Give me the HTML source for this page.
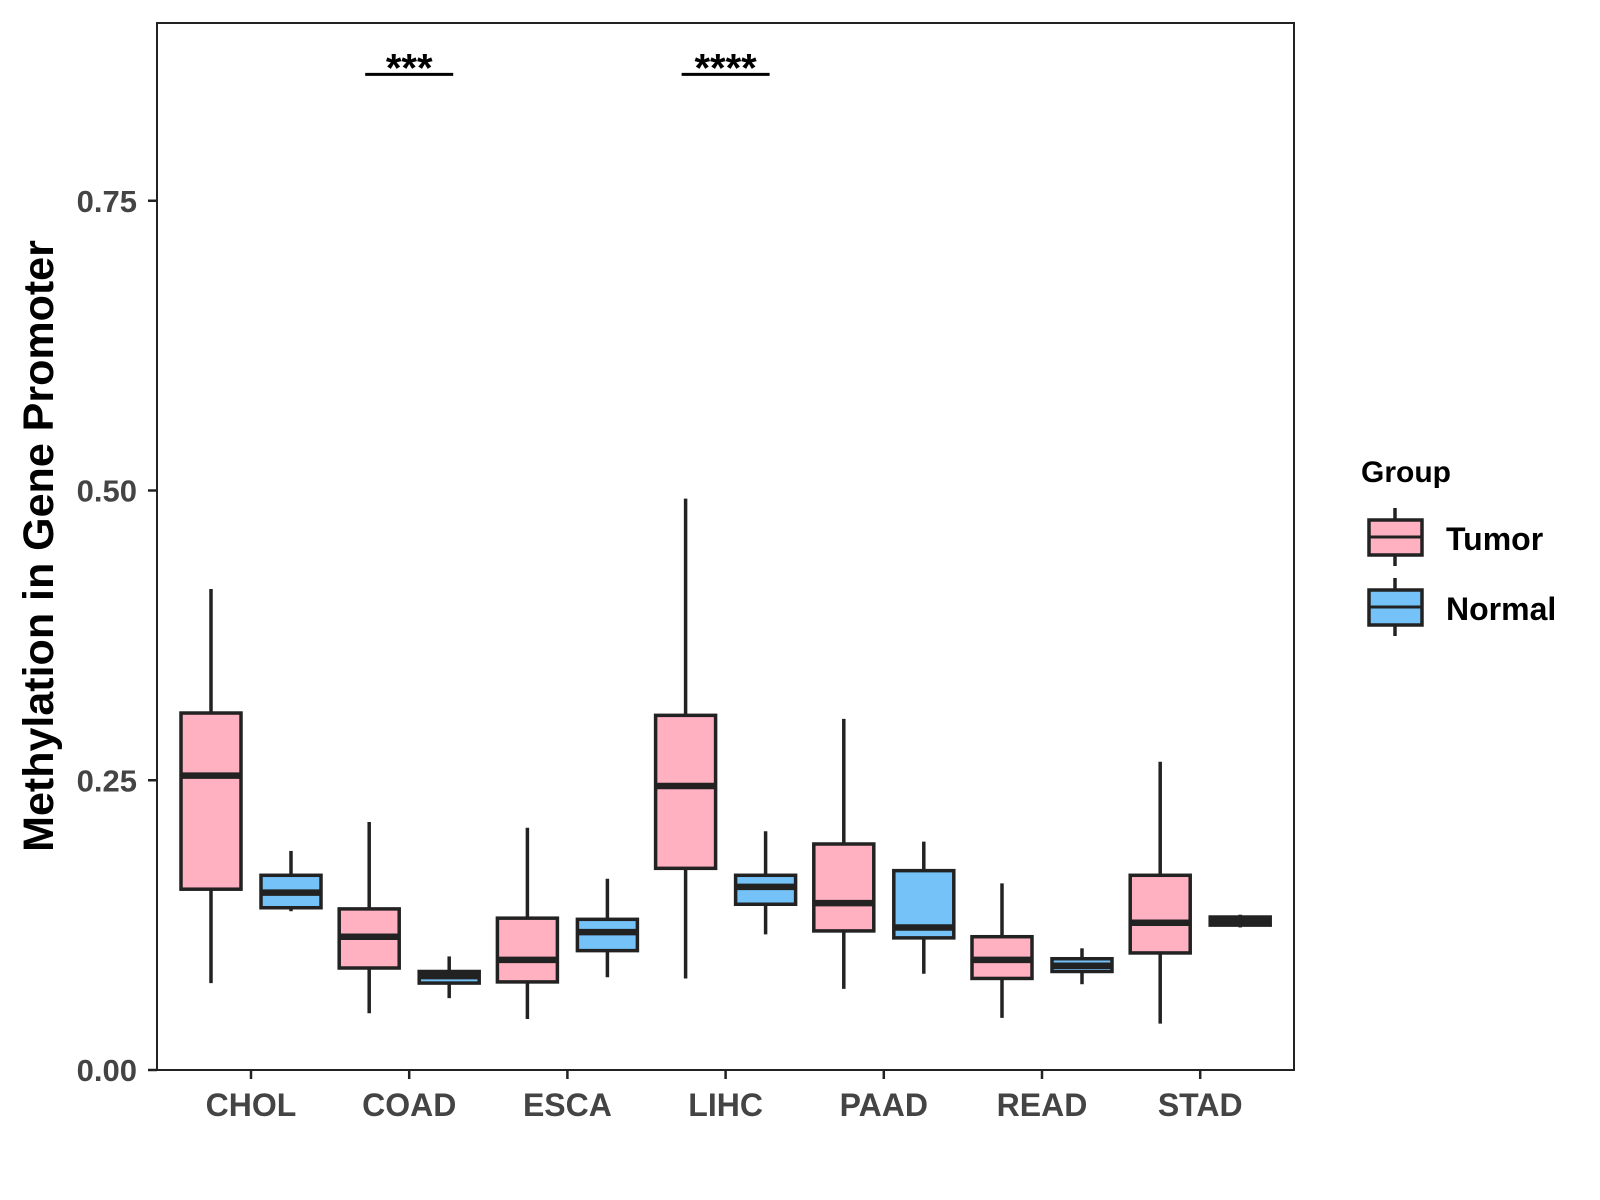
<!DOCTYPE html>
<html><head><meta charset="utf-8"><style>
html,body{margin:0;padding:0;background:#fff;}
svg{display:block;font-family:"Liberation Sans",Arial,sans-serif;font-weight:bold;}
</style></head><body>
<svg id="chart" width="1600" height="1200" viewBox="0 0 1600 1200" xmlns="http://www.w3.org/2000/svg">
<rect x="157" y="23" width="1137" height="1047" fill="#fff" stroke="#222" stroke-width="2"/>
<g id="marks"></g>
<g id="axes"></g>
<text transform="translate(53,546) rotate(-90)" text-anchor="middle" font-size="43" fill="#000">Methylation in Gene Promoter</text>
<g>
<text x="1361" y="482" font-size="30" fill="#000">Group</text>
<g>
<line x1="1395" y1="508" x2="1395" y2="566" stroke="#222" stroke-width="3.5"/>
<rect x="1369" y="520" width="53" height="35" fill="#FFB0C1" stroke="#222" stroke-width="3.5"/>
<line x1="1369" y1="537" x2="1422" y2="537" stroke="#222" stroke-width="3"/>
<text x="1446" y="550" font-size="32" fill="#000">Tumor</text>
</g>
<g>
<line x1="1395" y1="578" x2="1395" y2="636" stroke="#222" stroke-width="3.5"/>
<rect x="1369" y="590" width="53" height="35" fill="#74C2F8" stroke="#222" stroke-width="3.5"/>
<line x1="1369" y1="607" x2="1422" y2="607" stroke="#222" stroke-width="3"/>
<text x="1446" y="620" font-size="32" fill="#000">Normal</text>
</g>
</g>
</svg>
<script>
const categories = ["CHOL","COAD","ESCA","LIHC","PAAD","READ","STAD"];
const tumorStats = [
 [0.075,0.156,0.254,0.308,0.415],
 [0.049,0.088,0.115,0.139,0.214],
 [0.044,0.076,0.095,0.131,0.209],
 [0.079,0.174,0.245,0.306,0.493],
 [0.070,0.120,0.144,0.195,0.303],
 [0.045,0.079,0.095,0.115,0.161],
 [0.040,0.101,0.127,0.168,0.266]
];
const normalStats = [
 [0.137,0.140,0.153,0.168,0.189],
 [0.062,0.075,0.081,0.085,0.098],
 [0.080,0.103,0.119,0.130,0.165],
 [0.117,0.143,0.158,0.168,0.206],
 [0.083,0.114,0.123,0.172,0.197],
 [0.074,0.085,0.090,0.096,0.105],
 [0.123,0.125,0.129,0.132,0.134]
];
const yTicks = [0, 0.25, 0.5, 0.75];
const yTickLabels = ["0.00","0.25","0.50","0.75"];
const sigCategories = ["COAD","LIHC"];
const sigLabels = ["***","****"];
const sigLevel = 0.859;

const NS="http://www.w3.org/2000/svg";
const y = v => 1070 - v*1159;
const xc = i => 251 + i*158.2;
const BW = 60, OFF = 40;
const marks = document.getElementById('marks');
const axes = document.getElementById('axes');
function mk(tag, attrs, parent){const e=document.createElementNS(NS,tag);for(const k in attrs)e.setAttribute(k,attrs[k]);parent.appendChild(e);return e;}
function drawBox(cx, s, fill, name){
  const g = mk('g',{},marks);
  
  
  mk('line',{x1:cx,x2:cx,y1:y(s[4]),y2:y(s[0]),stroke:'#222','stroke-width':3.5},g);
  mk('rect',{x:cx-BW/2,y:y(s[3]),width:BW,height:y(s[1])-y(s[3]),fill:fill,stroke:'#222','stroke-width':3.5},g);
  mk('line',{x1:cx-BW/2,x2:cx+BW/2,y1:y(s[2]),y2:y(s[2]),stroke:'#222','stroke-width':6.5},g);
}
categories.forEach((c,i)=>{
  drawBox(xc(i)-OFF, tumorStats[i], '#FFB0C1', 'box-'+c.toLowerCase()+'-tumor');
  drawBox(xc(i)+OFF, normalStats[i], '#74C2F8', 'box-'+c.toLowerCase()+'-normal');
  const t = mk('line',{x1:xc(i),x2:xc(i),y1:1070,y2:1079,stroke:'#222','stroke-width':2.5},axes);
  
  
  const lb = mk('text',{x:xc(i),y:1116,'text-anchor':'middle','font-size':32,fill:'#444'},axes);
  lb.textContent = c;
  
  
});
yTicks.forEach((v,i)=>{
  const t = mk('line',{x1:148,x2:157,y1:y(v),y2:y(v),stroke:'#222','stroke-width':2.5},axes);
  
  
  const lb = mk('text',{x:137,y:y(v)+11,'text-anchor':'end','font-size':31,fill:'#444'},axes);
  lb.textContent = yTickLabels[i];
  
  
});
sigCategories.forEach((c,k)=>{
  const i = categories.indexOf(c);
  const ln = mk('line',{x1:xc(i)-44,x2:xc(i)+44,y1:y(sigLevel),y2:y(sigLevel),stroke:'#000','stroke-width':3},marks);
  
  
  const tx = mk('text',{x:xc(i),y:y(sigLevel)+7,'text-anchor':'middle','font-size':40,fill:'#000'},marks);
  tx.textContent = sigLabels[k];
  
  
});
</script>
</body></html>
